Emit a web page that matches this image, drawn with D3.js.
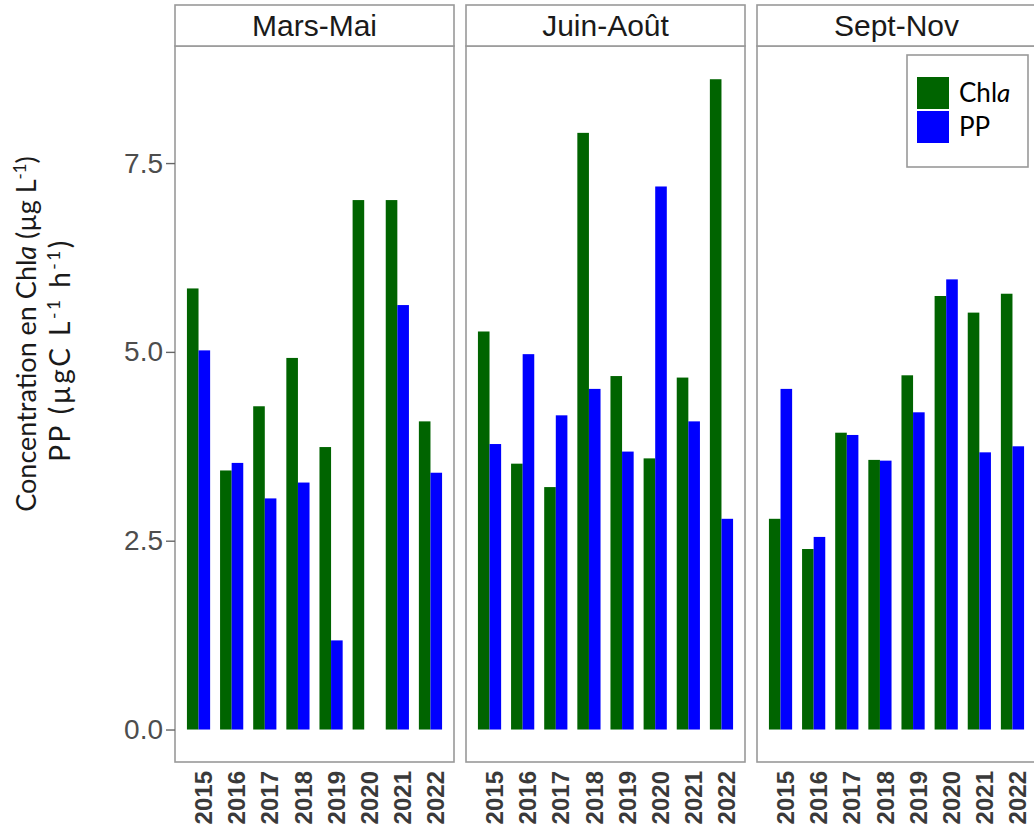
<!DOCTYPE html>
<html>
<head>
<meta charset="utf-8">
<script src="https://cdn.jsdelivr.net/npm/d3@7/dist/d3.min.js"></script>
<style>
  html, body { margin: 0; padding: 0; background: #fff; }
  svg { display: block; }
</style>
</head>
<body>
<svg id="chart" width="1034" height="835"></svg>
<script>
// ---- Data ----
const years = ["2015", "2016", "2017", "2018", "2019", "2020", "2021", "2022"];
const seasons = ["Mars-Mai", "Juin-Août", "Sept-Nov"];
const seriesNames = ["Chla", "PP"];

const chlaMarsMai   = [5.84, 3.43, 4.28, 4.92, 3.74, 7.01, 7.01, 4.08];
const ppMarsMai     = [5.02, 3.53, 3.06, 3.27, 1.18, null, 5.62, 3.40];
const chlaJuinAout  = [5.27, 3.52, 3.21, 7.90, 4.68, 3.59, 4.66, 8.61];
const ppJuinAout    = [3.78, 4.97, 4.16, 4.51, 3.68, 7.19, 4.08, 2.79];
const chlaSeptNov   = [2.79, 2.39, 3.93, 3.57, 4.69, 5.74, 5.52, 5.77];
const ppSeptNov     = [4.51, 2.55, 3.90, 3.56, 4.20, 5.96, 3.67, 3.75];

const yTicks = [0, 2.5, 5, 7.5];

const seasonData = [
  { season: seasons[0], chla: chlaMarsMai,  pp: ppMarsMai },
  { season: seasons[1], chla: chlaJuinAout, pp: ppJuinAout },
  { season: seasons[2], chla: chlaSeptNov,  pp: ppSeptNov }
];

// ---- Layout ----
const colors = { Chla: "#006400", PP: "#0000ff" };
const borderColor = "#999999";
const panelLefts = [175, 466, 757];
const panelW = 279;
const stripTop = 5, stripBottom = 46, panelBottom = 762;

const svg = d3.select("#chart");

const y = d3.scaleLinear().domain([-0.43, 9.05]).range([panelBottom, stripBottom]);

seasonData.forEach((sd, i) => {
  const x0 = panelLefts[i];
  const g = svg.append("g");

  const x = d3.scaleBand().domain(years).range([x0, x0 + panelW])
    .paddingInner(0.3).paddingOuter(0.36);
  const xs = d3.scaleBand().domain(seriesNames).range([0, x.bandwidth()]);

  // panel border
  g.append("rect")
    .attr("x", x0).attr("y", stripBottom)
    .attr("width", panelW).attr("height", panelBottom - stripBottom)
    .attr("fill", "#fff").attr("stroke", borderColor).attr("stroke-width", 1.6);

  // strip
  g.append("rect")
    .attr("x", x0).attr("y", stripTop)
    .attr("width", panelW).attr("height", stripBottom - stripTop)
    .attr("fill", "#fff").attr("stroke", borderColor).attr("stroke-width", 1.6);
  g.append("text")
    .attr("x", x0 + panelW / 2).attr("y", 36)
    .attr("text-anchor", "middle")
    .attr("font-family", "'Liberation Sans', Arial, sans-serif")
    .attr("font-size", 30).attr("fill", "#1a1a1a")
    .text(sd.season);

  // bars
  const rows = [];
  years.forEach((yr, j) => {
    rows.push({ yr, key: "Chla", v: sd.chla[j] });
    rows.push({ yr, key: "PP", v: sd.pp[j] });
  });
  g.selectAll("rect.bar").data(rows.filter(d => d.v != null)).enter()
    .append("rect").attr("class", "bar")
    .attr("x", d => x(d.yr) + xs(d.key))
    .attr("width", xs.bandwidth())
    .attr("y", d => y(d.v))
    .attr("height", d => y(0) - y(d.v))
    .attr("fill", d => colors[d.key]);

  // x axis labels
  const xAxis = d3.axisBottom(x).tickSize(0).tickPadding(0);
  const ax = g.append("g").attr("transform", `translate(0,${panelBottom})`).call(xAxis);
  ax.select(".domain").remove();
  ax.selectAll(".tick text")
    .attr("transform", "translate(5,9) rotate(-90)")
    .attr("x", 0).attr("y", 0).attr("dy", "0.36em")
    .attr("text-anchor", "end")
    .attr("font-family", "'Liberation Sans', Arial, sans-serif")
    .attr("font-size", 24).attr("font-weight", "bold")
    .attr("fill", "#3a3a3a");

  // y axis (first panel only)
  if (i === 0) {
    const yAxis = d3.axisLeft(y).tickValues(yTicks).tickFormat(d3.format(".1f"))
      .tickSize(9).tickPadding(3);
    const ay = g.append("g").attr("transform", `translate(${x0},0)`).call(yAxis);
    ay.select(".domain").remove();
    ay.selectAll(".tick line").attr("stroke", "#666").attr("stroke-width", 1.4);
    ay.selectAll(".tick text")
      .attr("font-family", "'Liberation Sans', Arial, sans-serif")
      .attr("font-size", 28).attr("fill", "#4d4d4d");
  }

  // legend (last panel)
  if (i === 2) {
    const lg = g.append("g");
    lg.append("rect").attr("x", 907).attr("y", 55).attr("width", 121).attr("height", 112)
      .attr("fill", "#fff").attr("stroke", borderColor).attr("stroke-width", 1.6);
    seriesNames.forEach((s, k) => {
      lg.append("rect").attr("x", 917).attr("y", 77 + k * 34)
        .attr("width", 32).attr("height", 32).attr("fill", colors[s]);
    });
    const t1 = lg.append("text").attr("x", 959).attr("y", 102)
      .attr("font-family", "Lato, 'Open Sans', sans-serif").attr("font-size", 26).attr("fill", "#000");
    t1.append("tspan").text("Chl");
    t1.append("tspan").attr("font-style", "italic").text("a");
    lg.append("text").attr("x", 959).attr("y", 136)
      .attr("font-family", "Lato, 'Open Sans', sans-serif").attr("font-size", 26).attr("fill", "#000")
      .text("PP");
  }
});

// ---- Y axis title ----
const titleFont = "Lato, 'Open Sans', sans-serif";
const tfs = 27;
const supShift = 10;
function sup(textSel, s, fs) {
  textSel.append("tspan").attr("font-size", fs * 0.62).attr("dy", -supShift).text(s);
}
function back(textSel, s) {
  textSel.append("tspan").attr("dy", supShift).text(s);
}
const l1 = svg.append("text")
  .attr("transform", "translate(36,334) rotate(-90)")
  .attr("text-anchor", "middle")
  .attr("font-family", titleFont).attr("font-size", tfs).attr("fill", "#1a1a1a");
l1.append("tspan").text("Concentration en Chl");
l1.append("tspan").attr("font-style", "italic").text("a");
l1.append("tspan").text(" (µg L");
sup(l1, "-1", tfs);
back(l1, ")");

const tfs2 = 28;
const l2 = svg.append("text")
  .attr("transform", "translate(70,350) rotate(-90)")
  .attr("text-anchor", "middle")
  .attr("font-family", titleFont).attr("font-size", tfs2).attr("fill", "#1a1a1a")
  .attr("letter-spacing", 2.5);
l2.append("tspan").text("PP (µgC L");
sup(l2, "-1", tfs2);
back(l2, " h");
sup(l2, "-1", tfs2);
back(l2, ")");
</script>
</body>
</html>
